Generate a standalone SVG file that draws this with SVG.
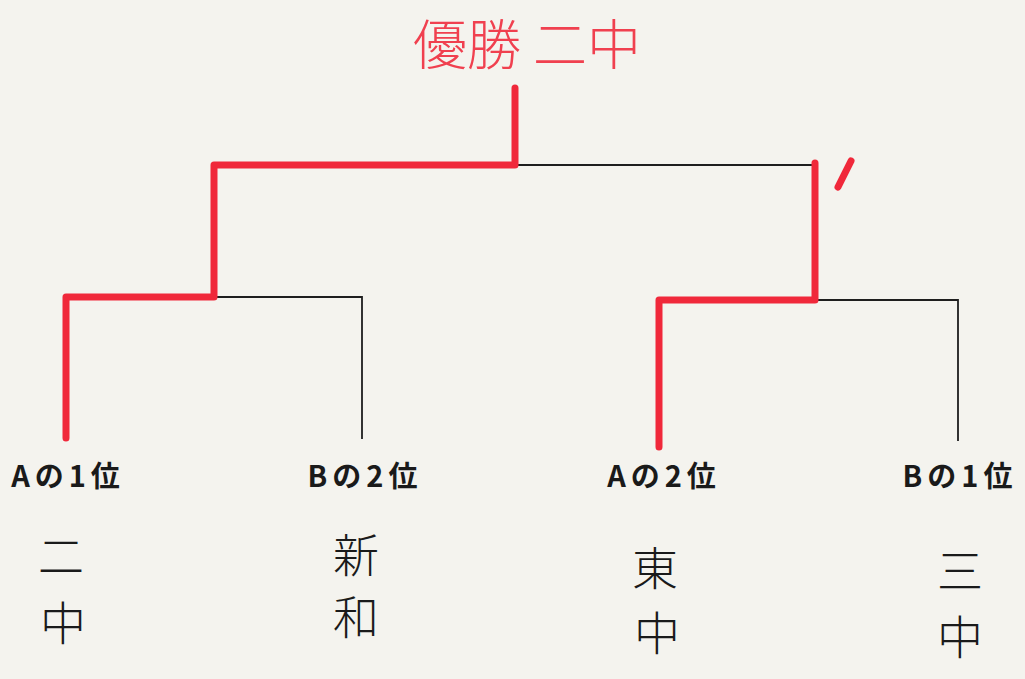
<svg xmlns="http://www.w3.org/2000/svg" width="1025" height="679" viewBox="0 0 1025 679">
<style>
.bk{fill:none;stroke:#1e1e1e;stroke-width:1.8;stroke-linecap:square}
.rd{fill:none;stroke:#f0283a;stroke-width:7;stroke-linecap:round;stroke-linejoin:round}
.lbl{font-family:"Noto Sans CJK JP","Liberation Sans",sans-serif;font-weight:bold;font-size:29px;fill:#1a1a1a;text-anchor:middle;letter-spacing:5px}
.hw{font-family:"Noto Sans CJK JP",sans-serif;font-weight:300;font-size:46px;fill:#1a1a1a;text-anchor:middle;dominant-baseline:central}
.ttl{font-family:"Noto Sans CJK JP",sans-serif;font-weight:300;font-size:54px;fill:#f0404f;text-anchor:middle;dominant-baseline:central}
</style>
<rect width="1025" height="679" fill="#f4f3ee"/>
<g id="connectors">
<path class="bk" d="M65,438 V297 H362 V438"/>
<path class="bk" d="M659,445 V300 H958 V440"/>
<path class="bk" d="M213,297 V165 H813 V300"/>
<path class="bk" d="M515,165 V92"/>
<path class="rd" d="M66,438 V297 H214 V165 H515 V88"/>
<path class="rd" d="M659,447 V300 H815 V163"/>
<line class="rd" x1="851" y1="161" x2="838" y2="187"/>
</g>
<g id="title"><text class="ttl" x="527" y="41">優勝 二中</text></g>
<g id="a1"><text class="lbl" x="68" y="487">Aの1位</text><text class="hw" x="61" y="553">二</text><text class="hw" x="63" y="620">中</text></g>
<g id="b2"><text class="lbl" x="365" y="487">Bの2位</text><text class="hw" x="356" y="552">新</text><text class="hw" x="356" y="614">和</text></g>
<g id="a2"><text class="lbl" x="664" y="487">Aの2位</text><text class="hw" x="655" y="565">東</text><text class="hw" x="657" y="630">中</text></g>
<g id="b1"><text class="lbl" x="960" y="487">Bの1位</text><text class="hw" x="960" y="568">三</text><text class="hw" x="960" y="634">中</text></g>
</svg>
